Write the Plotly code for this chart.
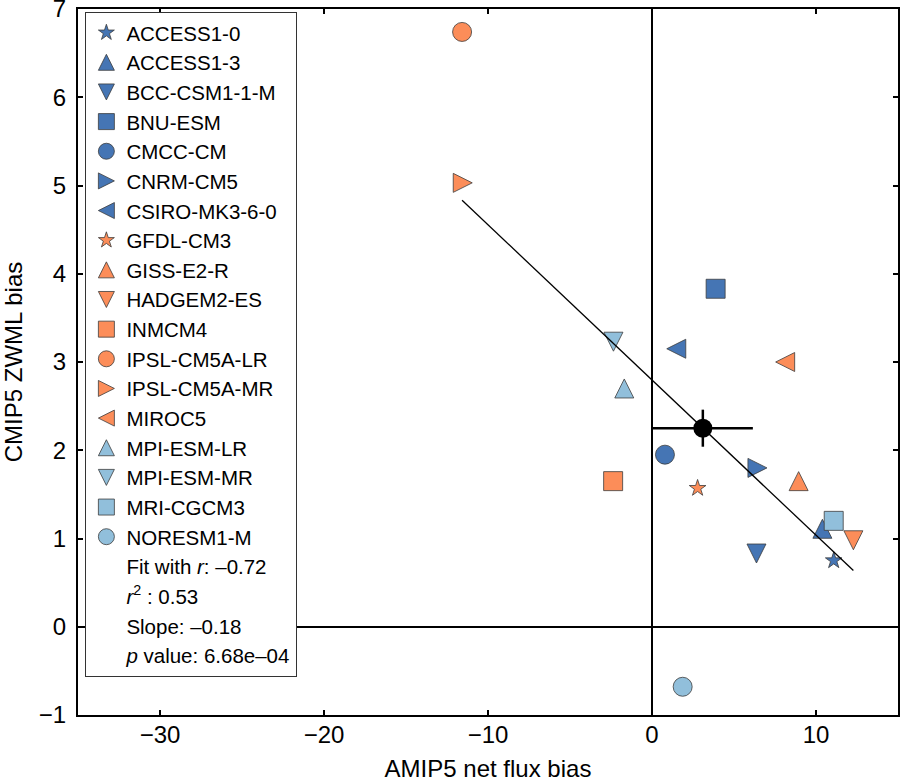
import numpy as np
import plotly.graph_objects as go

# ---------------- data ----------------
models = ["ACCESS1-0", "ACCESS1-3", "BCC-CSM1-1-M", "BNU-ESM", "CMCC-CM", "CNRM-CM5",
          "CSIRO-MK3-6-0", "GFDL-CM3", "GISS-E2-R", "HADGEM2-ES", "INMCM4", "IPSL-CM5A-LR",
          "IPSL-CM5A-MR", "MIROC5", "MPI-ESM-LR", "MPI-ESM-MR", "MRI-CGCM3", "NORESM1-M"]
net_flux_bias = [11.08, 10.39, 6.37, 3.88, 0.79, 6.43, 1.48, 2.78, 8.94, 12.28, -2.37, -11.58,
                 -11.54, 8.12, -1.69, -2.35, 11.08, 1.87]
zwml_bias = [0.75, 1.11, 0.83, 3.83, 1.95, 1.80, 3.15, 1.57, 1.65, 0.98, 1.65, 6.74,
             5.03, 3.00, 2.70, 3.23, 1.20, -0.68]
mean_point = [3.10, 2.25]
mean_err = [3.05, 0.21]
stats_text = ["Fit with <i>r</i>: \u20130.72", "<i>r</i><sup>2</sup> : 0.53",
              "Slope: \u20130.18", "<i>p</i> value: 6.68e\u201304"]
x_ticks = [-30, -20, -10, 0, 10]
y_ticks = [-1, 0, 1, 2, 3, 4, 5, 6, 7]

# ---------------- styles ----------------
DARK, ORANGE, LIGHT = "#4575b4", "#fc8d59", "#91bfdb"
colors = [DARK] * 7 + [ORANGE] * 7 + [LIGHT] * 4
shape_cycle = ["star", "up", "down", "square", "circle", "right", "left"]
shapes = (shape_cycle + shape_cycle + ["up", "down", "square", "circle"])

FONT = "Liberation Sans, Arial, Helvetica, sans-serif"
OUTLINE = dict(color="#3c3c3c", width=0.8)


def plot_marker(shape, color):
    size = 19
    m = dict(color=color, line=OUTLINE)
    if shape == "star":
        m.update(symbol="star", size=12.5)
    elif shape in ("square", "circle"):
        m.update(symbol=shape, size=size)
    else:
        ang = {"up": 180, "down": 0, "left": 90, "right": 270}[shape]
        m.update(symbol="arrow-down", size=size, angle=ang, standoff=size / 2)
    return m


def legend_marker(shape, color):
    size = 16
    m = dict(color=color, line=OUTLINE)
    if shape == "star":
        m.update(symbol="star", size=12)
    elif shape in ("square", "circle"):
        m.update(symbol=shape, size=size)
    else:
        ang = {"up": 0, "down": 180, "left": 270, "right": 90}[shape]
        m.update(symbol="arrow-up", size=size, angle=ang, standoff=size / 2)
    return m


fig = go.Figure()

# data markers
for name, x, y, c, s in zip(models, net_flux_bias, zwml_bias, colors, shapes):
    fig.add_trace(go.Scatter(x=[x], y=[y], mode="markers", name=name, legendgroup=name,
                             showlegend=False, marker=plot_marker(s, c)))

# regression line
xa = np.array(net_flux_bias)
ya = np.array(zwml_bias)
slope, intercept = np.polyfit(xa, ya, 1)
xl = np.array([xa.min(), xa.max()])
fig.add_trace(go.Scatter(x=xl, y=slope * xl + intercept, mode="lines",
                         line=dict(color="black", width=1.3), showlegend=False,
                         hoverinfo="skip"))

# multi-model mean with error bars
fig.add_trace(go.Scatter(x=[mean_point[0]], y=[mean_point[1]], mode="markers",
                         marker=dict(color="black", size=19, symbol="circle"),
                         error_x=dict(type="constant", value=mean_err[0], color="black",
                                      thickness=2.5, width=0),
                         error_y=dict(type="constant", value=mean_err[1], color="black",
                                      thickness=2.5, width=0),
                         showlegend=False))

# legend entries
for name, c, s in zip(models, colors, shapes):
    fig.add_trace(go.Scatter(x=[None], y=[None], mode="markers", name=name, legendgroup=name,
                             showlegend=True, marker=legend_marker(s, c)))
for t in stats_text:
    fig.add_trace(go.Scatter(x=[None], y=[None], mode="markers", name=t, showlegend=True,
                             marker=dict(color="rgba(0,0,0,0)", size=2,
                                         line=dict(width=0))))

axis_common = dict(showline=True, linecolor="black", linewidth=2, mirror="ticks",
                   ticks="inside", ticklen=5, tickwidth=1.5, tickcolor="black",
                   showgrid=False, zeroline=True, zerolinecolor="black", zerolinewidth=2,
                   automargin=False, ticklabeloverflow="allow",
                   tickfont=dict(family=FONT, size=24, color="black"))

fig.update_xaxes(range=[-35, 15], tickvals=x_ticks, ticklabelstandoff=-3,
                 title=dict(text="AMIP5 net flux bias", standoff=17,
                            font=dict(family=FONT, size=24, color="black")),
                 **axis_common)
fig.update_yaxes(range=[-1, 7], tickvals=y_ticks, ticklabelstandoff=5,
                 title=dict(text="CMIP5 ZWML bias", standoff=10,
                            font=dict(family=FONT, size=24, color="black")),
                 **axis_common)

fig.update_layout(
    width=900, height=782,
    margin=dict(l=78, r=2, t=9, b=67, autoexpand=False),
    plot_bgcolor="white", paper_bgcolor="white",
    showlegend=True,
    legend=dict(x=0.009, y=0.996, xanchor="left", yanchor="top",
                bgcolor="white", bordercolor="#333333", borderwidth=1,
                font=dict(family=FONT, size=20.5, color="black"),
                tracegroupgap=0, traceorder="normal"),
    font=dict(family=FONT, color="black"),
)

fig.write_html("out.html",
               config={"displayModeBar": False},
               post_script="document.body.style.margin='0px';"
                           "document.body.style.padding='0px';")
